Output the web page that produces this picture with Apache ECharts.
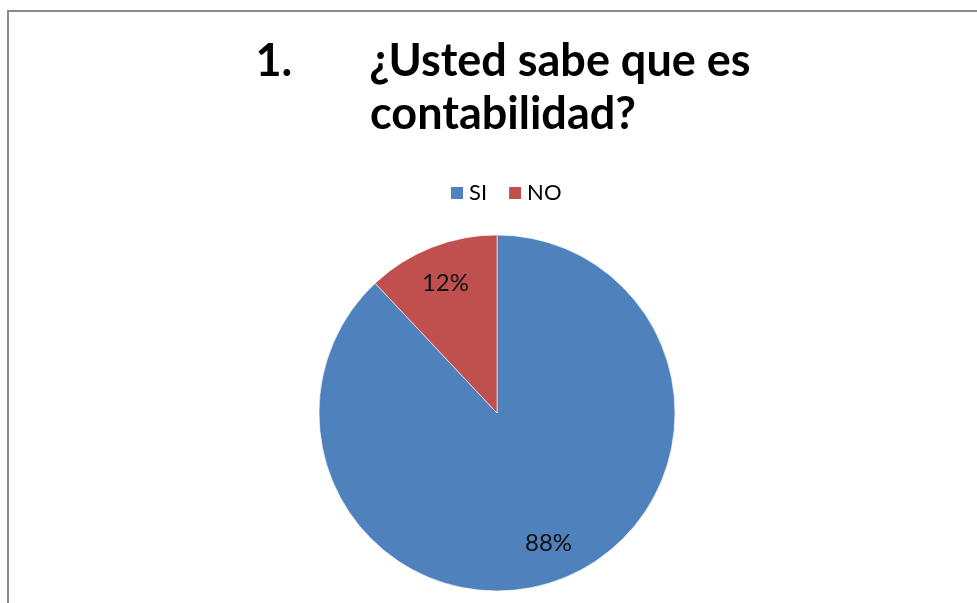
<!DOCTYPE html>
<html>
<head>
<meta charset="utf-8">
<script src="https://cdn.jsdelivr.net/npm/echarts@6/dist/echarts.min.js"></script>
<style>
  html, body { margin: 0; padding: 0; background: #fff; }
  #chart { width: 977px; height: 603px; }
</style>
</head>
<body>
<div id="chart"></div>
<script>
// Survey answers for question 1
const categories = ['SI', 'NO'];
const shares = [88, 12];
const sliceColors = ['#4F81BD', '#C0504D'];

const FONT = 'Lato, "Open Sans", sans-serif';

const pieData = categories.map((name, i) => ({
  name: name,
  value: shares[i],
  itemStyle: { color: sliceColors[i] }
}));

const chart = echarts.init(document.getElementById('chart'), null, { renderer: 'canvas' });

chart.setOption({
  backgroundColor: '#fff',
  animation: false,
  title: {
    left: 498,
    textAlign: 'center',
    top: 30,
    text: '{t|1.}{gap|}{t|¿Usted sabe que es}\n{t|contabilidad?}',
    textStyle: {
      rich: {
        t: { fontFamily: FONT, fontWeight: 'bold', fontSize: 45, color: '#000', lineHeight: 53 },
        gap: { width: 77, lineHeight: 53 }
      }
    }
  },
  legend: {
    top: 177,
    left: 444,
    icon: 'rect',
    itemWidth: 14,
    itemHeight: 14,
    itemGap: 20,
    textStyle: { fontFamily: FONT, fontSize: 22, color: '#000' },
    data: categories
  },
  graphic: [
    {
      type: 'polyline',
      silent: true,
      shape: { points: [[8, 620], [8, 11], [990, 11]] },
      style: { stroke: '#8a8a8a', lineWidth: 2, fill: null }
    }
  ],
  series: [
    {
      type: 'pie',
      center: [497, 413],
      radius: 178,
      startAngle: 90,
      clockwise: true,
      label: { show: false },
      labelLine: { show: false },
      itemStyle: { borderColor: '#ffffff', borderWidth: 0.6 },
      emphasis: { disabled: true },
      data: pieData
    },
    {
      // transparent ring carrying the percentage labels further out in each slice
      type: 'pie',
      center: [497, 413],
      radius: [96, 178],
      startAngle: 90,
      clockwise: true,
      silent: true,
      legendHoverLink: false,
      itemStyle: { color: 'transparent', borderWidth: 0 },
      label: {
        show: true,
        position: 'inside',
        formatter: '{c}%',
        fontFamily: FONT,
        fontSize: 24,
        color: '#111'
      },
      labelLine: { show: false },
      emphasis: { disabled: true },
      data: categories.map((name, i) => ({ name: name, value: shares[i] }))
    }
  ]
});
</script>
</body>
</html>
